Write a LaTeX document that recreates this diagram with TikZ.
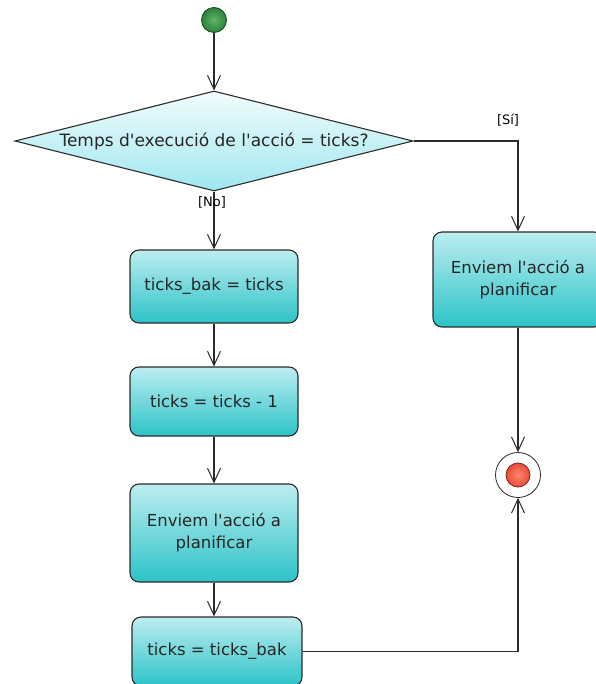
\documentclass[tikz,border=0pt]{standalone}
\usepackage{fontspec}
\setmainfont{DejaVu Sans}
\usetikzlibrary{shapes.geometric,arrows.meta}
\definecolor{boxtop}{HTML}{BCEDF0}
\definecolor{boxbot}{HTML}{2CC3C8}
\definecolor{dectop}{HTML}{F2FCFD}
\definecolor{decbot}{HTML}{9FE7EF}
\definecolor{edge}{HTML}{2B2B2B}
\newcommand{\apos}{\textquotesingle}
\tikzset{
  flow/.style={draw=edge, line width=1.2pt, -{Straight Barb[length=14pt,width=13pt,line width=1pt]}},
  action/.style={draw=edge, line width=1.1pt, rounded corners=9pt, top color=boxtop, bottom color=boxbot,
    align=center, font=\fontsize{16.5}{22}\selectfont, text=black!85, inner sep=0pt},
  guard/.style={font=\fontsize{13}{15}\selectfont, inner sep=1pt},
}
\begin{document}
\begin{tikzpicture}[x=1pt,y=-1pt]
\useasboundingbox (0,0) rectangle (595,684);

% initial node
\node[circle, minimum size=25pt, inner sep=0pt, draw={rgb,255:red,30;green,80;blue,40}, line width=0.9pt,
      inner color={rgb,255:red,95;green,180;blue,105}, outer color={rgb,255:red,45;green,130;blue,60}] (start) at (214,20) {};

% decision
\node[diamond, minimum width=398pt, minimum height=100pt, inner sep=0pt, draw=edge, line width=1.1pt,
      top color=dectop, bottom color=decbot] (dec) at (214,141) {};
\node[font=\fontsize{17}{20}\selectfont, text=black!85] (dectext) at (214,141) {Temps d\apos execució de l\apos acció = ticks?};

% actions
\node[action, minimum width=168pt, minimum height=73pt] (b1) at (214,286.5) {ticks\_bak = ticks};
\node[action, minimum width=168pt, minimum height=69pt] (b2) at (214,401.5) {ticks = ticks - 1};
\node[action, minimum width=168pt, minimum height=98pt] (b3) at (214,533) {Enviem l\apos acció a\\planificar};
\node[action, minimum width=170pt, minimum height=69pt] (b4) at (217,651.5) {ticks = ticks\_bak};
\node[action, minimum width=170pt, minimum height=95pt] (b5) at (518,279.5) {Enviem l\apos acció a\\planificar};

% final node
\node[circle, minimum size=45pt, inner sep=0pt, draw=edge, line width=0.8pt, fill=white] (end) at (518,475) {};
\node[circle, minimum size=24pt, inner sep=0pt, draw={rgb,255:red,120;green,40;blue,30}, line width=0.8pt,
      inner color={rgb,255:red,255;green,135;blue,110}, outer color={rgb,255:red,232;green,75;blue,55}] (endcore) at (end) {};

% connectors
\draw[flow] (start) -- (dec.north);
\draw[flow] (dec.south) -- (b1.north);
\draw[flow] (dec.east) -| (b5.north);
\draw[flow] (b1.south) -- (b2.north);
\draw[flow] (b2.south) -- (b3.north);
\draw[flow] (b3.south) -- (b3.south |- b4.north);
\draw[flow] (b5.south) -- (end.north);
\draw[flow] (b4.east) -| (end.south);

% guards
\node[guard] (gno) at (212,202) {[No]};
\node[guard] (gsi) at (508,120) {[Sí]};
\end{tikzpicture}
\end{document}
